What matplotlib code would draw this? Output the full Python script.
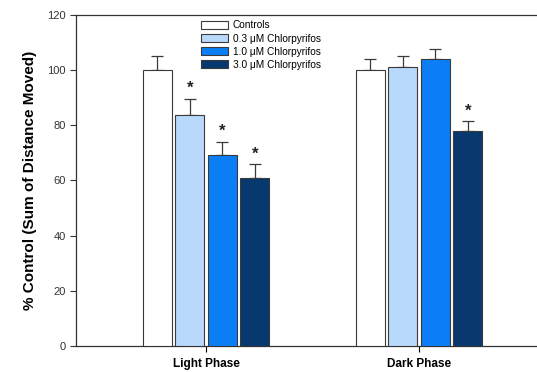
import numpy as np
import matplotlib.pyplot as plt
from matplotlib.patches import Patch

plt.rcParams['font.family'] = ['Liberation Sans', 'DejaVu Sans']

phases = ['Light Phase', 'Dark Phase']
groups = ['Controls', '0.3 \u03bcM Chlorpyrifos', '1.0 \u03bcM Chlorpyrifos', '3.0 \u03bcM Chlorpyrifos']
colors = ['#ffffff', '#b8d9fb', '#0b7ef6', '#07386e']

# % control per group, [light, dark]
means = [[100.0, 99.9],
         [83.6, 101.2],
         [69.4, 104.0],
         [61.0, 77.8]]
sems = [[5.3, 4.2],
        [6.0, 4.0],
        [4.6, 3.7],
        [4.9, 3.6]]
# significant vs controls
signif = [[False, False],
          [True, False],
          [True, False],
          [True, True]]

fig = plt.figure(figsize=(5.37, 3.72), dpi=100)
ax = fig.add_axes([0.1415, 0.0699, 0.8678, 0.8898])

x = np.arange(len(phases))
width = 0.136
step = 0.1526
for i, g in enumerate(groups):
    xs = x + (i - 1.5) * step
    ax.bar(xs, means[i], width, color=colors[i], edgecolor='#3a3a3a', linewidth=0.8, zorder=3)
    ax.errorbar(xs, means[i], yerr=[np.zeros(2), sems[i]], fmt='none',
                ecolor='#3a3a3a', elinewidth=0.9, capsize=4, capthick=0.9, zorder=2)
    for j in range(len(phases)):
        if signif[i][j]:
            ax.text(xs[j], means[i][j] + sems[i][j] + 1.0, '*', ha='center', va='bottom',
                    fontsize=12, fontweight='bold', color='#222222')

ax.set_xlim(-0.610, 1.577)
ax.set_ylim(0, 120)
ax.set_yticks(np.arange(0, 121, 20))
ax.set_xticks(x)
ax.set_xticklabels(phases, fontsize=8.5, fontweight='bold')
ax.tick_params(axis='y', labelsize=8, colors='#333333', length=4, width=0.8)
ax.tick_params(axis='x', length=4, width=0.8, pad=5)
ax.set_ylabel('% Control (Sum of Distance Moved)', fontsize=11, fontweight='bold', labelpad=7)
for s in ax.spines.values():
    s.set_linewidth(0.9)
    s.set_color('#333333')

handles = [Patch(facecolor=c, edgecolor='#3a3a3a', linewidth=0.8) for c in colors]
ax.legend(handles, groups, loc='upper left', bbox_to_anchor=(0.375, 0.945),
          bbox_transform=fig.transFigure, frameon=False, fontsize=7.3,
          handlelength=2.6, handleheight=0.9, labelspacing=0.3, handletextpad=0.5,
          borderaxespad=0, borderpad=0)

fig.savefig('out.png', dpi=100)
